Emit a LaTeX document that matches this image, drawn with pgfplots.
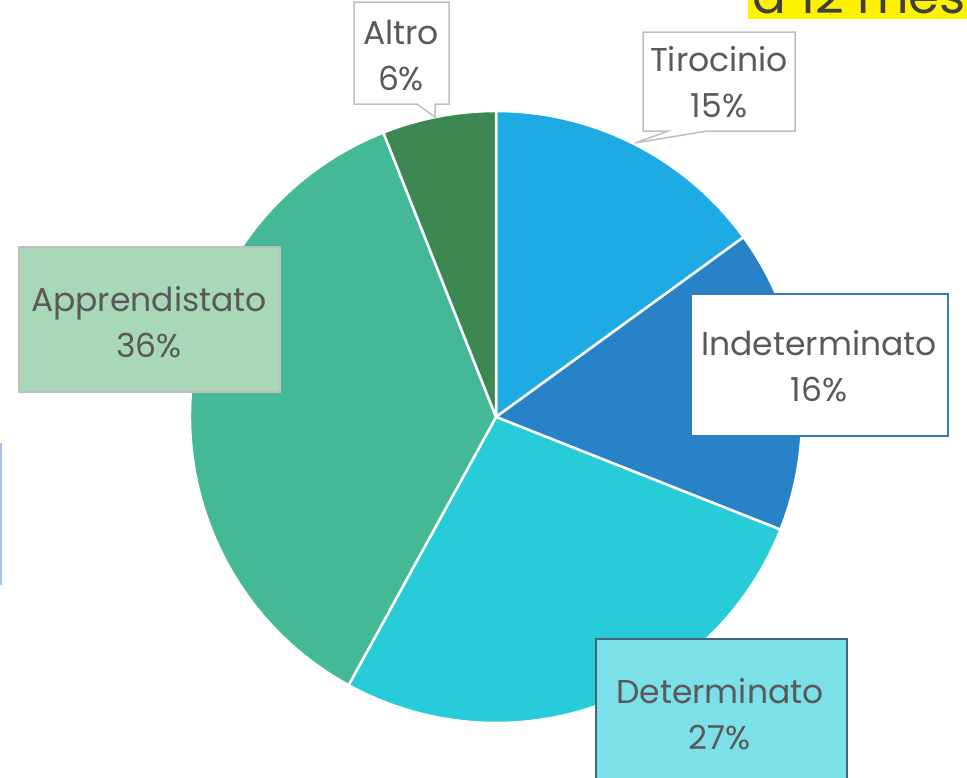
\documentclass[border=0pt]{standalone}
\usepackage{pgfplots}
\pgfplotsset{compat=1.18}
\usepackage{fontspec}
\setmainfont{Poppins}

\definecolor{tiro}{HTML}{1EABE3}
\definecolor{indet}{HTML}{2782C8}
\definecolor{det}{HTML}{27CCD8}
\definecolor{appr}{HTML}{44B996}
\definecolor{altro}{HTML}{3D8753}
\definecolor{txt}{HTML}{595959}
\definecolor{boxgray}{HTML}{BFBFBF}
\definecolor{indetline}{HTML}{3A7CB8}
\definecolor{detfill}{HTML}{7CE0E8}
\definecolor{detline}{HTML}{46647F}
\definecolor{apprfill}{HTML}{A8D8B8}
\definecolor{ttl}{HTML}{404040}
\definecolor{edge}{HTML}{9DC3E6}

\begin{document}
\begin{tikzpicture}[x=1pt,y=1pt]
\useasboundingbox (0,0) rectangle (967,777);
\begin{axis}[
  at={(0,0)}, anchor=south west,
  scale only axis, width=967pt, height=777pt,
  xmin=0, xmax=967, ymin=0, ymax=777,
  y dir=reverse, hide axis, clip=false,
  ]
  % pie slices, clockwise from 12 o'clock (percent values)
  \def\cum{90}
  \foreach \v/\c in {15/tiro, 16/indet, 27/det, 36/appr, 6/altro}{
    \pgfmathparse{\cum-3.6*\v}\xdef\nxt{\pgfmathresult}
    \edef\temp{\noexpand\fill[fill=\c, draw=white, line width=2.5pt, line join=round]
      (axis cs:496,417) -- ++(\cum:306pt) arc[start angle=\cum, end angle=\nxt, radius=306pt] -- cycle;}
    \temp
    \xdef\cum{\nxt}
  }

  % labels
  \tikzset{lbl/.style={align=center, text=txt, font=\fontsize{33}{46}\selectfont, inner sep=0pt}}
  % Altro callout
  \filldraw[fill=white, draw=boxgray, line width=1.5pt]
    (axis cs:354,2) -- (axis cs:449,2) -- (axis cs:449,104) -- (axis cs:435,104)
    -- (axis cs:435,117) -- (axis cs:417,104) -- (axis cs:354,104) -- cycle;
  \node[lbl] at (axis cs:401,55) {Altro\\6\%};
  % Tirocinio callout
  \filldraw[fill=white, draw=boxgray, line width=1.5pt]
    (axis cs:643,32) -- (axis cs:795,32) -- (axis cs:795,131) -- (axis cs:707,131)
    -- (axis cs:635,143) -- (axis cs:668,131) -- (axis cs:643,131) -- cycle;
  \node[lbl] at (axis cs:719,82) {Tirocinio\\15\%};
  % Indeterminato
  \filldraw[fill=white, draw=indetline, line width=1.5pt] (axis cs:691,294) rectangle (axis cs:948,436);
  \node[lbl] at (axis cs:819,366) {Indeterminato\\16\%};
  % Determinato
  \filldraw[fill=detfill, draw=detline, line width=1.5pt] (axis cs:596,639) rectangle (axis cs:847,800);
  \node[lbl] at (axis cs:720,714) {Determinato\\27\%};
  % Apprendistato
  \filldraw[fill=apprfill, draw=boxgray, line width=1.5pt] (axis cs:19,247) rectangle (axis cs:280,392);
  \node[lbl] at (axis cs:149,322) {Apprendistato\\36\%};

  % cut-off title at the top right
  \fill[yellow] (axis cs:748,-5) rectangle (axis cs:975,19);
  \node[anchor=base west, inner sep=0pt, text=ttl, font=\fontsize{50}{56}\selectfont]
    at (axis cs:752,13) {a 12 mesi};
  % thin blue line at the left edge
  \draw[edge, line width=2pt] (axis cs:1,443) -- (axis cs:1,585);
\end{axis}
\end{tikzpicture}
\end{document}
